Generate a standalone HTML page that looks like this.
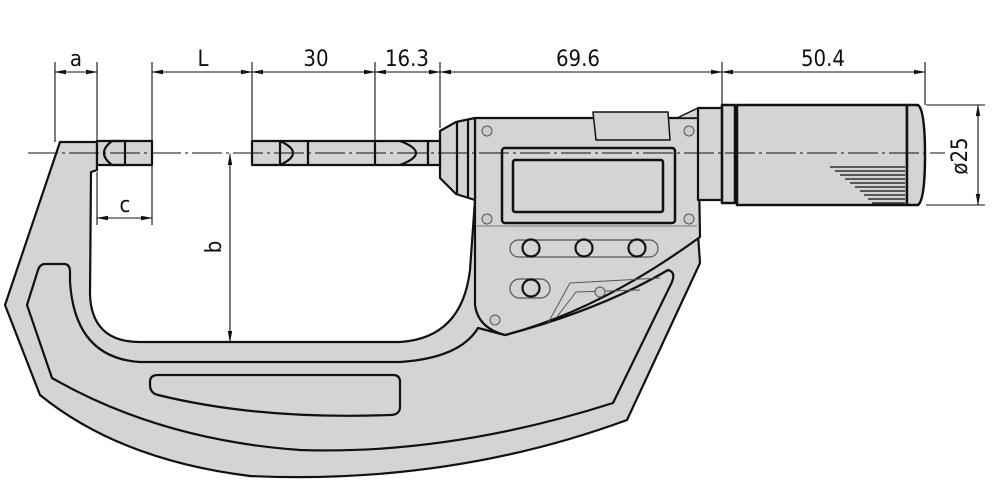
<!DOCTYPE html>
<html><head><meta charset="utf-8"><style>
html,body{margin:0;padding:0;background:#fff}
svg{display:block}
text{font-family:"DejaVu Sans Condensed","Liberation Sans",sans-serif;font-size:22px;fill:#111}
</style></head><body>
<svg width="1000" height="482" viewBox="0 0 1000 482" xmlns="http://www.w3.org/2000/svg">
<defs>
<marker id="ar" markerWidth="12" markerHeight="6" refX="11" refY="3" orient="auto-start-reverse" markerUnits="userSpaceOnUse"><path d="M0,0.8 L12,3 L0,5.2Z" fill="#111"/></marker>
</defs>
<g stroke="#111" stroke-width="2.2" fill="#d4d4d4" stroke-linejoin="round">
<path d="M60,142 L97,142 L97,170 L91,172 L90,295 Q92,342 140,342 L400,342 Q462,338 470,270 L475,200 L698,235 L700,263 L627,420 Q450,485 250,476 Q120,460 40,395 L5,305 Z"/>
<path d="M45,264 L64,264 Q70,264 70,272 L70,282 Q75,358 140,362 L400,362 Q460,358 478,328 L505,335 Q600,310 668,270 Q676,272 672,282 L613,403 Q450,455 300,450 Q160,440 52,378 L27,305 L38,270 Q40,264 45,264Z" fill="#d4d4d4"/>
<path d="M158,375 L393,375 Q400,375 400,382 L400,408 Q399,415 390,415 Q260,420 158,395 Q150,393 150,385 L150,382 Q150,375 158,375Z"/>
<path d="M475,118 L698,118 L700,237 Q600,310 505,335 Q478,328 475,305 Z"/>
<path d="M593,112 L668,112 L670,140 L596,140 Z" stroke-width="1.5"/>
<path d="M677,118 L698,108 L698,118Z" stroke-width="1.5"/>
<rect x="502" y="148" width="173" height="75" rx="3" stroke-width="2.5"/>
<rect x="513" y="160" width="150" height="52" rx="2" stroke-width="2.5"/>
<line x1="477" y1="226" x2="697" y2="226" stroke-width="1" stroke="#777"/>
<rect x="510" y="240" width="148" height="17" rx="8.5" stroke-width="1.2" stroke="#555"/>
<rect x="510" y="279" width="40" height="19" rx="9.5" stroke-width="1.2" stroke="#555"/>
<circle cx="531" cy="248" r="8.5"/><circle cx="584" cy="248" r="8.5"/><circle cx="637" cy="248" r="8.5"/>
<circle cx="531" cy="288" r="8.5"/>
<path d="M548,323 L570,283 L660,278 M556,318 L576,292 L640,290" fill="none" stroke-width="1" stroke="#555"/>
<g stroke-width="1" fill="#ccc" stroke="#555">
<circle cx="487" cy="131" r="5"/><circle cx="689" cy="131" r="5"/><circle cx="487" cy="219" r="5"/><circle cx="689" cy="219" r="5"/><circle cx="600" cy="292" r="5"/><circle cx="495" cy="320" r="5"/>
</g>
<path d="M440,131 L456,122 L475,118 L475,200 L456,194 L440,178 Z"/>
<line x1="457" y1="122" x2="457" y2="194"/><line x1="468" y1="119" x2="468" y2="198"/>
<rect x="97" y="141" width="55" height="24"/>
<path d="M112,141 Q96,153 112,165" fill="none"/><path d="M112,141 L125,141 L125,165 L112,165" fill="none"/>
<rect x="252" y="141" width="56" height="24"/>
<path d="M280,141 Q306,153 280,165" fill="none"/><line x1="280" y1="141" x2="280" y2="165"/>
<rect x="308" y="141" width="120" height="24"/>
<line x1="375" y1="141" x2="375" y2="165"/>
<path d="M400,141 Q432,153 400,165" fill="none"/>
<rect x="428" y="141" width="12" height="24"/>
<rect x="698" y="108" width="24" height="92"/>
<rect x="722" y="105" width="13" height="98" stroke-width="2.5"/>
<rect x="737" y="105" width="170" height="100" stroke-width="2.5"/>
<path d="M907,105 L918,105 Q925,110 925,155 Q925,200 918,205 L907,205Z" stroke-width="2.5"/>
<g stroke-width="1.3" fill="none"><path d="M830,167 L905,167 M835,171 L905,171 M840,175 L905,175 M845,179 L905,179 M850,183 L905,183 M855,187 L905,187 M860,191 L905,191 M864,195 L905,195 M868,199 L905,199 M872,203 L905,203"/></g>
</g>
<line x1="28" y1="153" x2="945" y2="153" stroke="#111" stroke-width="1" stroke-dasharray="30,4,3,4"/>
<g stroke="#111" stroke-width="1.1" fill="none">
<line x1="55" y1="62" x2="55" y2="142"/><line x1="97" y1="62" x2="97" y2="142"/>
<line x1="152" y1="62" x2="152" y2="225"/><line x1="252" y1="62" x2="252" y2="141"/>
<line x1="375" y1="62" x2="375" y2="141"/><line x1="440" y1="62" x2="440" y2="128"/>
<line x1="722" y1="62" x2="722" y2="105"/><line x1="925" y1="62" x2="925" y2="105"/>
<line x1="97" y1="172" x2="97" y2="225"/>
<line x1="55" y1="72" x2="97" y2="72" marker-start="url(#ar)" marker-end="url(#ar)"/>
<line x1="152" y1="72" x2="252" y2="72" marker-start="url(#ar)" marker-end="url(#ar)"/>
<line x1="252" y1="72" x2="375" y2="72" marker-start="url(#ar)" marker-end="url(#ar)"/>
<line x1="375" y1="72" x2="440" y2="72" marker-start="url(#ar)" marker-end="url(#ar)"/>
<line x1="440" y1="72" x2="722" y2="72" marker-start="url(#ar)" marker-end="url(#ar)"/>
<line x1="722" y1="72" x2="925" y2="72" marker-start="url(#ar)" marker-end="url(#ar)"/>
<line x1="97" y1="218" x2="152" y2="218" marker-start="url(#ar)" marker-end="url(#ar)"/>
<line x1="230" y1="154" x2="230" y2="342" marker-start="url(#ar)" marker-end="url(#ar)"/>
<line x1="926" y1="105" x2="985" y2="105"/><line x1="926" y1="205" x2="985" y2="205"/>
<line x1="978" y1="105" x2="978" y2="205" marker-start="url(#ar)" marker-end="url(#ar)"/>
</g>
<text x="76" y="66" text-anchor="middle">a</text>
<text x="203" y="66" text-anchor="middle">L</text>
<text x="316" y="66" text-anchor="middle">30</text>
<text x="407" y="66" text-anchor="middle">16.3</text>
<text x="578" y="66" text-anchor="middle">69.6</text>
<text x="823" y="66" text-anchor="middle">50.4</text>
<text x="125" y="212" text-anchor="middle">c</text>
<text transform="translate(221,247) rotate(-90)" text-anchor="middle">b</text>
<text transform="translate(967,156) rotate(-90)" text-anchor="middle">ø25</text>
</svg>
</body></html>
